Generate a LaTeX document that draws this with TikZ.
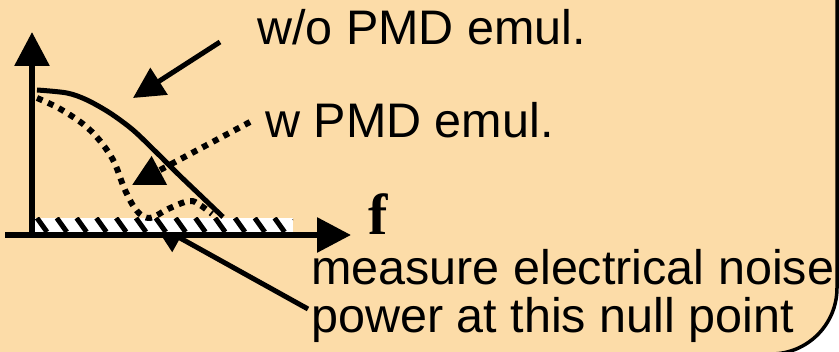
\documentclass[tikz,border=0pt]{standalone}
\usepackage{fontspec}
\setsansfont{Liberation Sans}
\setmainfont{Liberation Serif}
\usepackage{tikz}
\usetikzlibrary{arrows.meta,positioning}
\definecolor{slidebg}{RGB}{252,220,168}

\begin{document}
\begin{tikzpicture}[x=1pt, y=-1pt, every node/.style={font=\sffamily\fontsize{48.5}{48}\selectfont, inner sep=0pt, anchor=base west},
		ax/.style={line width=6pt, -{Triangle[length=34pt, width=34pt]}},
		ptr/.style={line width=5pt, -{Triangle[length=31pt, width=31pt]}},
		dots/.style={line width=6pt, dash pattern=on 6pt off 6pt}]
	\fill[white] (0,0) rectangle (839,352);
	\useasboundingbox (0,0) rectangle (839,352);
	\filldraw[fill=slidebg, line width=3.5pt, rounded corners=66pt] (-80,-80) rectangle (837,354);
	\node (wo) at (257,45) {w/o PMD emul.};
	\node (w) at (265,138) {w PMD emul.};
	\node (meas) at (311,285) {measure electrical noise};
	\node (pow) at (311,333) {power at this null point};
	\node[font=\rmfamily\bfseries\fontsize{58}{60}\selectfont] (f) at (368,235) {f};
	\coordinate (o) at (32,235);
	\coordinate (ytop) at (32,32);
	\coordinate (xl) at (5,235);
	\coordinate (xr) at (351,235);
	\coordinate (wo-tail) at (220,42);
	\coordinate (wo-tip) at (133,98);
	\coordinate (w-tail) at (250,122);
	\coordinate (w-tip) at (132,185);
	\coordinate (null-tail) at (308,309);
	\coordinate (null-tip) at (153,223);
	\draw[ptr] (null-tail) -- (null-tip);
	\fill[white] (35,218) rectangle (293,232);
	\begin{scope}
		\clip (35,218) rectangle (293,232);
		\foreach \i in {0,...,13}
			\draw[line width=5pt] (37+19.8*\i,218) -- ++(10,14);
	\end{scope}
	\draw[ax] (xl) -- (xr);
	\draw[ax] (o) -- (ytop);
	\draw[line width=5pt] plot[smooth] coordinates {(37,90) (67,93) (87,100) (110,113) (133,130) (157,153) (177,173) (200,195) (223,217)};
	\draw[dots] plot[smooth, tension=0.6] coordinates {(37,98) (62,110) (90,130) (112,158) (125,190) (137,211) (150,218) (168,209) (189,201) (200,205) (212,214)};
	\draw[ptr] (wo-tail) -- (wo-tip);
	\draw[ptr, dots] (w-tail) -- (w-tip);
\end{tikzpicture}
\end{document}
